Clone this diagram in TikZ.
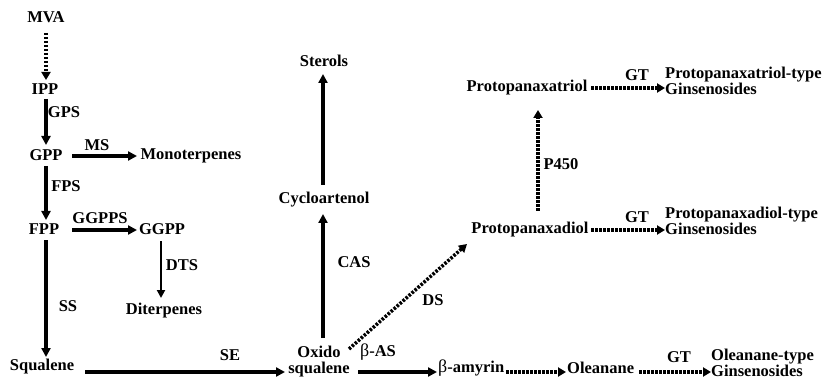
\documentclass[tikz,border=0pt]{standalone}
\usepackage{fontspec}
\setmainfont{Liberation Serif}
\usetikzlibrary{arrows.meta}
\tikzset{
  lbl/.style={font=\bfseries\fontsize{16.5}{18}\selectfont, inner sep=1pt},
  two/.style={lbl, align=left, font=\bfseries\fontsize{16.5}{16}\selectfont},
  sarr/.style={line width=3.5pt, -{Triangle[length=9pt,width=9pt]}},
  tarr/.style={line width=4.5pt, -{Triangle[length=9pt,width=9pt]}},
  narr/.style={line width=2.5pt, -{Triangle[length=8pt,width=8pt]}},
  darr/.style={line width=3.5pt, dash pattern=on 2.5pt off 1.5pt, -{Triangle[length=8pt,width=9pt]}},
}
\begin{document}
\begin{tikzpicture}[x=1pt,y=-1pt]
\useasboundingbox (0,0) rectangle (835,382);
% nodes
\node[lbl] (mva) at (46,17) {MVA};
\node[lbl] (ipp) at (45,89) {IPP};
\node[lbl] (gpp) at (46,155) {GPP};
\node[lbl] (mono) at (191,156) {Monoterpenes};
\node[lbl] (fpp) at (44,229) {FPP};
\node[lbl] (ggpp) at (162,229) {GGPP};
\node[lbl] (dit) at (164,311) {Diterpenes};
\node[lbl] (squ) at (42,367) {Squalene};
\node[two, align=center] (oxi) at (319,362) {Oxido\\squalene};
\node[lbl] (cyc) at (324,200) {Cycloartenol};
\node[lbl] (ste) at (324,61) {Sterols};
\node[lbl] (ppd) at (530,230) {Protopanaxadiol};
\node[lbl] (ppt) at (527,88) {Protopanaxatriol};
\node[two, anchor=west] (pptg) at (664,81) {Protopanaxatriol-type\\Ginsenosides};
\node[two, anchor=west] (ppdg) at (664,221) {Protopanaxadiol-type\\Ginsenosides};
\node[lbl, anchor=west, inner sep=0pt] (bam) at (438,368) {{\mdseries\fontsize{18}{18}\selectfont β}-amyrin};
\node[lbl, anchor=west, inner sep=0pt] (ole) at (567,368) {Oleanane};
\node[two, anchor=west] (oleg) at (710,363) {Oleanane-type\\Ginsenosides};
% enzyme labels
\node[lbl] (gps) at (64,112) {GPS};
\node[lbl] (ms) at (97,145) {MS};
\node[lbl] (fps) at (66,186) {FPS};
\node[lbl] (ggpps) at (100,218) {GGPPS};
\node[lbl] (dts) at (182,265) {DTS};
\node[lbl] (ss) at (68,306) {SS};
\node[lbl] (se) at (230,355) {SE};
\node[lbl] (cas) at (354,262) {CAS};
\node[lbl] (ds) at (433,300) {DS};
\node[lbl] (p450) at (561,164) {P450};
\node[lbl] (gt1) at (637,75) {GT};
\node[lbl] (gt2) at (637,217) {GT};
\node[lbl] (gt3) at (679,357) {GT};
\node[lbl] (bas) at (378,352) {{\mdseries\fontsize{18}{18}\selectfont β}-AS};
% coordinates
\coordinate (a1) at (46,33); \coordinate (a2) at (46,80);
\coordinate (b1) at (46,99); \coordinate (b2) at (46,145);
\coordinate (c1) at (72,156); \coordinate (c2) at (137,156);
\coordinate (d1) at (46,166); \coordinate (d2) at (46,220);
\coordinate (e1) at (72,230); \coordinate (e2) at (137,230);
\coordinate (f1) at (161,241); \coordinate (f2) at (161,298);
\coordinate (g1) at (46,240); \coordinate (g2) at (46,357);
\coordinate (h1) at (85,372); \coordinate (h2) at (285,372);
\coordinate (i1) at (323,338); \coordinate (i2) at (323,214);
\coordinate (j1) at (323,185); \coordinate (j2) at (323,74);
\coordinate (k1) at (349,349); \coordinate (k2) at (467,244);
\coordinate (l1) at (538,211); \coordinate (l2) at (538,110);
\coordinate (m1) at (591,88); \coordinate (m2) at (665,88);
\coordinate (n1) at (591,230); \coordinate (n2) at (665,230);
\coordinate (o1) at (358,372); \coordinate (o2) at (437,372);
\coordinate (p1) at ([xshift=2pt]bam.east|-o1); \coordinate (p2) at (566,372);
\coordinate (q1) at ([xshift=5pt]ole.east|-o1); \coordinate (q2) at (711,372);
% connectors
\draw[darr] (a1) -- (a2);
\draw[tarr] (b1) -- (b2);
\draw[sarr] (c1) -- (c2);
\draw[tarr] (d1) -- (d2);
\draw[sarr] (e1) -- (e2);
\draw[narr] (f1) -- (f2);
\draw[tarr] (g1) -- (g2);
\draw[sarr] (h1) -- (h2);
\draw[sarr] (i1) -- (i2);
\draw[sarr] (j1) -- (j2);
\draw[darr] (k1) -- (k2);
\draw[darr] (l1) -- (l2);
\draw[darr] (m1) -- (m2);
\draw[darr] (n1) -- (n2);
\draw[sarr] (o1) -- (o2);
\draw[darr] (p1) -- (p2);
\draw[darr] (q1) -- (q2);
\end{tikzpicture}
\end{document}
